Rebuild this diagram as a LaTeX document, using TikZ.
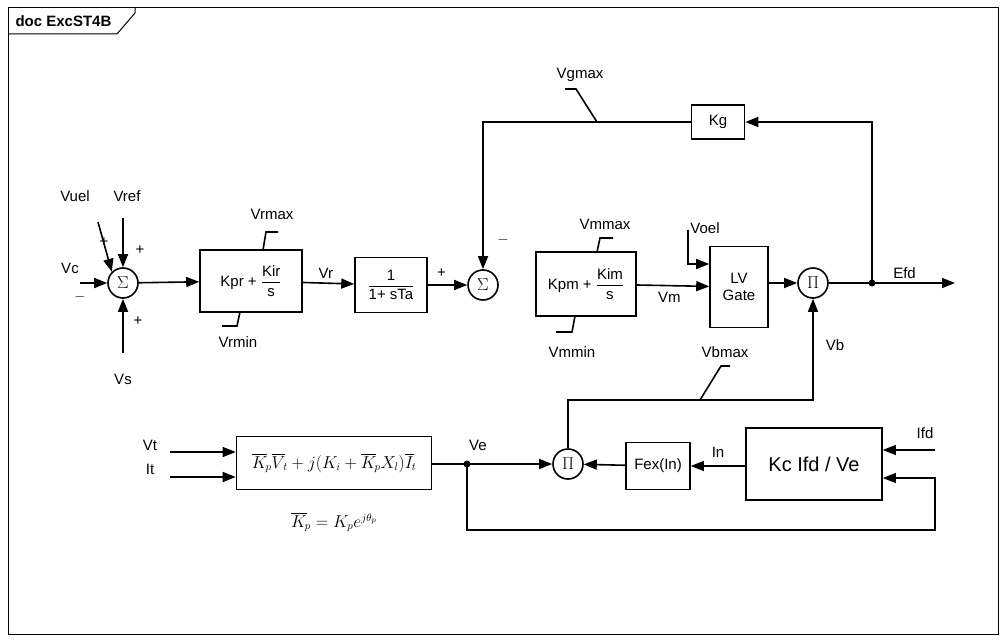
\documentclass[tikz,border=0pt]{standalone}
\usepackage{fontspec}
\setmainfont{Liberation Sans}
\usepackage{amsmath}
\usetikzlibrary{arrows.meta, positioning, calc}

\tikzset{
  blk/.style={draw, line width=1.6pt, minimum width=#1, inner sep=2pt, align=center},
  blk/.default=50pt,
  sumc/.style={draw, line width=1.6pt, circle, minimum size=30pt, inner sep=0pt, font=\fontsize{19}{19}\selectfont},
  lbl/.style={font=\fontsize{15}{17}\selectfont, inner sep=1pt},
  sig/.style={line width=1.6pt, -{Triangle[length=13pt,width=10pt]}},
  wire/.style={line width=1.6pt}
}

\begin{document}
\begin{tikzpicture}[x=1pt, y=-1pt, font=\fontsize{15}{17}\selectfont]
\useasboundingbox (0,0) rectangle (1007,642);
\fill[white] (0,0) rectangle (1007,642);
% frame and tab
\draw[line width=1pt] (8,8) rectangle (998,634);
\draw[line width=1pt] (8,34) -- (117,34) -- (135,13) -- (135,8);
\node[anchor=west, font=\fontsize{15}{17}\selectfont\bfseries] at (12,21) {doc ExcST4B};

% top row
\node[sumc] (s1) at (123,283) {$\Sigma$};
\node[blk, minimum width=102pt, minimum height=62pt] (kpr) at (251,281) {Kpr + $\dfrac{\text{Kir}}{\text{s}}$};
\node[blk, minimum width=72pt, minimum height=55pt] (ta) at (391,285) {$\dfrac{\text{1}}{\text{1+ sTa}}$};
\node[sumc] (s2) at (483,285) {$\Sigma$};
\node[blk, minimum width=100pt, minimum height=64pt] (kpm) at (586,284) {Kpm + $\dfrac{\text{Kim}}{\text{s}}$};
\node[blk, minimum width=58pt, minimum height=81pt] (gate) at (739,287) {LV\\Gate};
\node[sumc] (p1) at (813,283) {$\Pi$};
\node[blk, minimum width=53pt, minimum height=34pt] (kg) at (718,122) {Kg};
\coordinate (jefd) at (872,283);
\coordinate (efd) at (955,283);

% inputs to first sum
\coordinate (vc) at (80,283);
\coordinate (vuel) at (98,222);
\coordinate (vref) at (123,218);
\coordinate (vs) at (123,353);
\draw[sig] (vc) -- (s1);
\draw[sig] (vuel) -- (s1.north west);
\draw[sig] (vref) -- (s1);
\draw[sig] (vs) -- (s1);
\node[lbl] at (70,268) {Vc};
\node[lbl] at (80,297) {$-$};
\node[lbl] at (75,196) {Vuel};
\node[lbl] at (104,242) {+};
\node[lbl] at (140,250) {+};
\node[lbl] at (127,196) {Vref};
\node[lbl] at (123,379) {Vs};
\node[lbl] at (138,321) {+};

\draw[sig] (s1) -- (kpr);
\draw[sig] (kpr) -- (ta) node[lbl, pos=0.45, above=3pt] {Vr};
\draw[sig] (ta) -- (s2) node[lbl, pos=0.35, above=6pt] {+};
\draw[sig] (kpm) -- (gate) node[lbl, pos=0.45, below=5pt] {Vm};
\draw[sig] (gate.east |- p1) -- (p1);
\draw[sig] (p1) -- (efd) node[lbl, pos=0.6, above=3pt] {Efd};
\fill (jefd) circle (3.5pt);

% limits
\draw[wire] (263,250) -- (266,232) -- (278,232);
\node[lbl] at (272,214) {Vrmax};
\draw[wire] (240,312) -- (237,326) -- (222,326);
\node[lbl] at (238,342) {Vrmin};
\draw[wire] (597,252) -- (600,238) -- (613,238);
\node[lbl] at (605,224) {Vmmax};
\draw[wire] (575,316) -- (572,332) -- (556,332);
\node[lbl] at (572,352) {Vmmin};

% Voel
\coordinate (voel) at (688,230);
\draw[sig] (voel) |- ($(gate.west)+(0,-23)$);
\node[lbl] at (705,228) {Voel};

% gain feedback
\draw[sig] (jefd) |- (kg);
\draw[sig] (kg) -| (s2);
\node[lbl] at (503,240) {$-$};
\draw[wire] (565,89) -- (576,89) -- (597,122) -- (607,122);
\node[lbl] at (580,75) {Vgmax};

% bottom row
\node[blk, minimum width=195pt, minimum height=53pt, font=\fontsize{16}{18}\selectfont] (vebox) at (334,463) {$\overline{K}_{\!p}\overline{V}_{\!t} + j(K_i + \overline{K}_{\!p} X_l)\overline{I}_{\!t}$};
\node[lbl, font=\fontsize{16}{18}\selectfont] at (334,522) {$\overline{K}_{\!p} = K_p e^{j\theta_p}$};
\node[sumc] (p2) at (568,464) {$\Pi$};
\node[blk, minimum width=64pt, minimum height=47pt] (fex) at (658,466) {Fex(In)};
\node[blk, minimum width=136pt, minimum height=72pt, font=\fontsize{20}{22}\selectfont] (kc) at (814,464) {Kc Ifd / Ve};
\coordinate (jve) at (467,464);

\coordinate (vt) at (170,452);
\coordinate (it) at (170,477);
\draw[sig] (vt) -- (vt -| vebox.west);
\draw[sig] (it) -- (it -| vebox.west);
\node[lbl] at (150,445) {Vt};
\node[lbl] at (150,469) {It};

\draw[sig] (vebox.east |- p2) -- (p2);
\fill (jve) circle (3.5pt);
\node[lbl] at (478,445) {Ve};
\draw[sig] (fex) -- (p2);
\draw[sig] (kc.west |- fex) -- (fex) node[lbl, pos=0.5, above=7pt] {In};
\coordinate (ifd) at (935,450);
\draw[sig] (ifd) -- (ifd -| kc.east);
\node[lbl] at (925,433) {Ifd};
\draw[sig] (jve) -- (467,530) -- (935,530) -- (935,478) -- (kc.east |- 0,478);

% Vb path
\draw[sig] (p2) -- (568,400) -| (p1);
\node[lbl] at (835,345) {Vb};
\draw[wire] (730,366) -- (721,366) -- (700,400) -- (688,400);
\node[lbl] at (725,352) {Vbmax};
\end{tikzpicture}
\end{document}
